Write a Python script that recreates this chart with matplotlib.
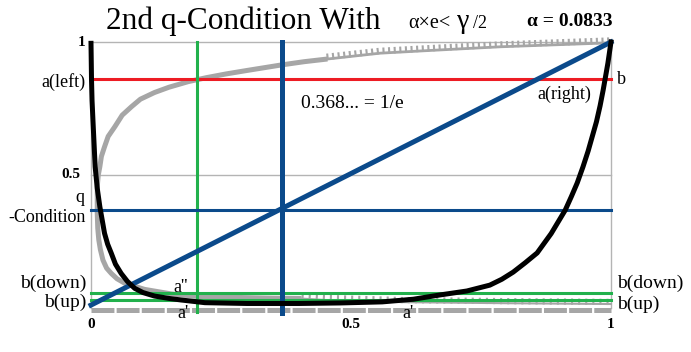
import matplotlib
matplotlib.use("Agg")
import matplotlib.pyplot as plt
import matplotlib.patheffects as pe

# values
alpha = 0.0833
inv_e = 0.368
a_left = 0.862
b_down = 0.056
b_up = 0.030
a_green = 0.204

black_x = [0.0, 0.001, 0.002, 0.004, 0.008, 0.012, 0.017, 0.026, 0.032, 0.039, 0.047, 0.058,
           0.07, 0.084, 0.10, 0.122, 0.15, 0.174, 0.219, 0.30, 0.40, 0.48, 0.56, 0.62, 0.671,
           0.723, 0.767, 0.79, 0.812, 0.835, 0.858, 0.885, 0.912, 0.924, 0.935, 0.946, 0.956,
           0.964, 0.972, 0.979, 0.985, 0.994, 1.0]
black_y = [0.995, 0.857, 0.78, 0.695, 0.531, 0.45, 0.381, 0.281, 0.24, 0.206, 0.165, 0.130,
           0.10, 0.074, 0.058, 0.045, 0.036, 0.030, 0.020, 0.017, 0.017, 0.019, 0.023, 0.033,
           0.049, 0.064, 0.086, 0.108, 0.135, 0.17, 0.207, 0.28, 0.368, 0.42, 0.47, 0.53, 0.59,
           0.645, 0.70, 0.76, 0.82, 0.92, 1.0]

# gray curve: along the bottom from the right, up the left edge, then right along the top
gray_x = [0.40, 0.35, 0.30, 0.25, 0.206, 0.154, 0.103, 0.065, 0.05, 0.039, 0.03, 0.023, 0.018,
          0.015, 0.013, 0.012, 0.012, 0.014, 0.017, 0.020, 0.026, 0.033, 0.046, 0.06, 0.078,
          0.095, 0.122, 0.15, 0.187, 0.222, 0.26, 0.30, 0.367, 0.41, 0.45]
gray_y = [0.036, 0.037, 0.039, 0.041, 0.043, 0.053, 0.070, 0.093, 0.11, 0.130, 0.15, 0.180,
          0.22, 0.256, 0.30, 0.357, 0.456, 0.50, 0.531, 0.57, 0.606, 0.645, 0.682, 0.725, 0.757,
          0.785, 0.810, 0.830, 0.851, 0.866, 0.880, 0.893, 0.914, 0.926, 0.935]
gray_tail_bottom_x = [0.40, 0.45, 0.6, 0.8, 1.0]
gray_tail_bottom_y = [0.036, 0.030, 0.022, 0.018, 0.015]
gray_tail_top_x = [0.45, 0.556, 0.65, 0.787, 0.9, 1.0]
gray_tail_top_y = [0.935, 0.958, 0.968, 0.982, 0.990, 0.997]

diag_x = [0.0, 1.0]
diag_y = [0.011, 1.0]

xticks = [0, 0.5, 1]
xtick_labels = ["0", "0.5", "1"]

W, H = 691, 352
fig = plt.figure(figsize=(W / 100, H / 100), dpi=100)
ax = fig.add_axes([91 / W, 44 / H, 520 / W, 266 / H])
ax.set_xlim(0, 1)
ax.set_ylim(0, 1)
ax.axis("off")
plt.rcParams["lines.scale_dashes"] = False

red = "#ed1c24"
green = "#22b14c"
navy = "#0b4a8b"
gray = "#a6a6a6"

# grid / frame
for yv in [0.5, 1.0]:
    ax.plot([0, 1], [yv, yv], color="#b4b4b4", lw=1.0, zorder=1, clip_on=False)
for xv in [0.0, 1.0]:
    ax.plot([xv, xv], [0, 1], color="#b4b4b4", lw=1.0, zorder=1, clip_on=False)

# bottom gray band
ax.plot([0, 1], [-0.008, -0.008], color=gray, lw=3.6, dashes=(16.5, 1.6),
        solid_capstyle="butt", dash_capstyle="butt", zorder=2, clip_on=False)

# gray curve
ax.plot(gray_x, gray_y, color=gray, lw=3.6, zorder=3, clip_on=False,
        solid_joinstyle="round")
ax.plot(gray_tail_bottom_x, gray_tail_bottom_y, color=gray, lw=1.5, zorder=3, clip_on=False,
        path_effects=[pe.withTickedStroke(angle=90, spacing=5, length=0.6, linewidth=1.5)])
ax.plot(gray_tail_top_x, gray_tail_top_y, color=gray, lw=2.0, zorder=3, clip_on=False,
        path_effects=[pe.withTickedStroke(angle=90, spacing=4, length=0.8, linewidth=1.5)])

# straight lines
ax.plot([0, 1], [a_left, a_left], color=red, lw=2.2, zorder=4, clip_on=False)
ax.plot([a_green, a_green], [-0.015, 1.0], color=green, lw=2.2, zorder=4, clip_on=False)
ax.plot([0, 1], [b_down, b_down], color=green, lw=2.2, zorder=4, clip_on=False)
ax.plot([0, 1], [b_up, b_up], color=green, lw=2.2, zorder=4, clip_on=False)
ax.plot([0, 1], [inv_e, inv_e], color=navy, lw=2.2, zorder=4, clip_on=False)
ax.plot([inv_e, inv_e], [-0.02, 1.0], color=navy, lw=3.6, zorder=4, clip_on=False)
ax.plot(diag_x, diag_y, color=navy, lw=3.6, zorder=5, clip_on=False)

# black curve
ax.plot(black_x, black_y, color="black", lw=3.6, zorder=6, clip_on=False,
        solid_joinstyle="round")

serif = "Liberation Serif"


def t(px, py, s, size=13, ha="center", weight="normal"):
    fig.text(px / W, 1 - py / H, s, ha=ha, va="center", fontsize=size,
             family=serif, weight=weight)


# title
t(243, 21, "2nd q-Condition With", size=22.5)
t(408, 24, "α×e<", size=14.5, ha="left")
t(457, 22, "γ", size=20, ha="left")
t(473, 24, "/2", size=13, ha="left")
t(570, 21, "α = 0.0833", size=14, weight="bold")

# y labels on the left
t(85, 43, "1", size=11, ha="right", weight="bold")
t(85, 82, "a(left)", size=13, ha="right")
t(80, 175, "0.5", size=11, ha="right", weight="bold")
t(84, 198, "q", size=13, ha="right")
t(86, 218, "-Condition", size=13, ha="right")
t(86, 283, "b(down)", size=14, ha="right")
t(86, 302, "b(up)", size=14, ha="right")

# right labels
t(617, 80, "b", size=13, ha="left")
t(617, 283, "b(down)", size=14, ha="left")
t(617, 304, "b(up)", size=14, ha="left")

# x tick labels
for xv, lab in zip(xticks, xtick_labels):
    t(91 + 520 * xv, 324, lab, size=11, weight="bold")

# annotations
t(352, 103, "0.368... = 1/e", size=14)
t(564, 94, "a(right)", size=13)
t(181, 287, "a''", size=13)
t(183, 314, "a'", size=13)
t(408, 314, "a'", size=13)

fig.savefig("out.png", dpi=100)
